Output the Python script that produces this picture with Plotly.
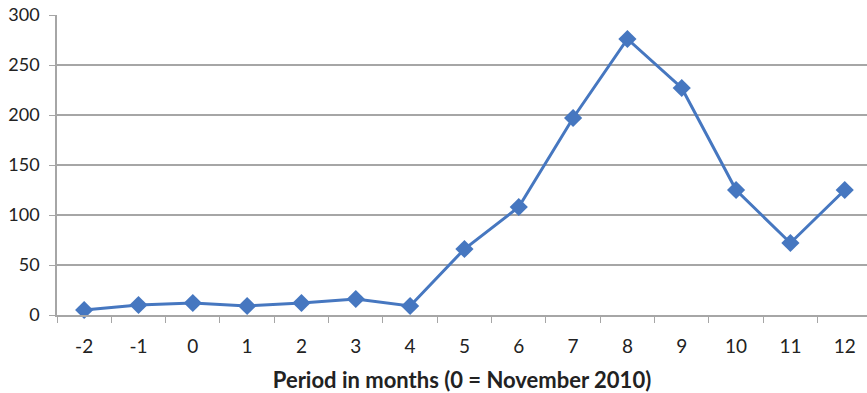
import plotly.graph_objects as go

# Monthly counts around November 2010 (month 0)
months = ["-2", "-1", "0", "1", "2", "3", "4", "5", "6", "7", "8", "9", "10", "11", "12"]
counts = [5, 10, 12, 9, 12, 16, 9, 66, 108, 197, 276, 227, 125, 72, 125]
y_ticks = [0, 50, 100, 150, 200, 250, 300]

FONT = "Lato, 'Open Sans', sans-serif"
BLUE = "#4677C0"
GRAY = "#A6A6A6"

fig = go.Figure(
    go.Scatter(
        x=months,
        y=counts,
        mode="lines+markers",
        line=dict(color=BLUE, width=3),
        marker=dict(symbol="diamond", size=14, color=BLUE),
        cliponaxis=False,
    )
)

fig.update_layout(
    width=867,
    height=393,
    margin=dict(l=57, r=0, t=15, b=78),
    paper_bgcolor="white",
    plot_bgcolor="white",
    showlegend=False,
    font=dict(family=FONT, size=18, color="#222222"),
)

fig.update_xaxes(
    type="category",
    range=[-0.5, 14.41],
    showgrid=False,
    showline=True,
    linecolor=GRAY,
    linewidth=1.5,
    ticks="outside",
    tickson="boundaries",
    ticklen=6,
    tickcolor=GRAY,
    ticklabelstandoff=13,
    tickfont=dict(size=19),
    title=dict(
        text="<b>Period in months (0 = November 2010)</b>",
        font=dict(size=22, color="#222222"),
        standoff=17,
    ),
)

fig.update_yaxes(
    range=[0, 300],
    tickvals=y_ticks,
    showgrid=True,
    gridcolor=GRAY,
    gridwidth=1.5,
    showline=True,
    linecolor=GRAY,
    linewidth=1.5,
    ticks="outside",
    ticklen=6,
    tickcolor=GRAY,
    ticklabelstandoff=6,
    tickfont=dict(size=18),
    zeroline=False,
)

fig.write_html("out.html")
